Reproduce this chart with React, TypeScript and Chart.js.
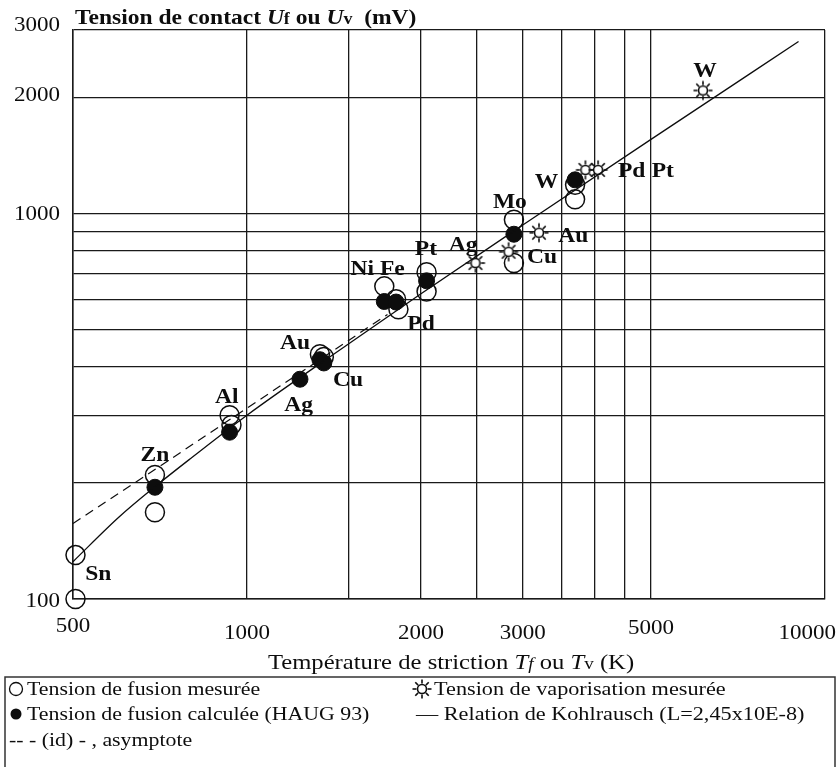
import React, { useEffect, useRef } from "react";
import { Chart, registerables } from "chart.js";

Chart.register(...registerables);

// ---- axes ----
const xGridValues = [500, 1000, 1500, 2000, 2500, 3000, 3500, 4000, 4500, 5000, 10000];
const yGridValues = [100, 200, 300, 400, 500, 600, 700, 800, 900, 1000, 2000, 3000];
const xTickLabels = [500, 1000, 2000, 3000, 5000, 10000];
const yTickLabels = [100, 1000, 2000, 3000];

// ---- Tension de fusion mesurée (open circles) ----
const measuredT = [505, 505, 693, 693, 933, 940, 1337, 1358, 1728, 1811, 1828, 2045, 2045, 2896, 2896, 3695, 3695];
const measuredU = [130, 100, 210, 168, 300, 283, 432, 425, 648, 600, 565, 705, 628, 965, 745, 1190, 1090];

// ---- Tension de fusion calculée (HAUG 93) (filled circles) ----
const calcT = [693, 933, 1235, 1337, 1358, 1728, 1811, 2045, 2896, 3695];
const calcU = [195, 271, 372, 418, 410, 592, 590, 670, 885, 1225];

// ---- Tension de vaporisation mesurée (suns) ----
const vapT = [2485, 2835, 3200, 3850, 4050, 6150];
const vapU = [745, 797, 893, 1300, 1300, 2090];

// ---- Relation de Kohlrausch (solid) ----
const kohlT = [500, 600, 700, 800, 1000, 1500, 2000, 3000, 5000, 9000];
const kohlU = [125, 163, 198, 232, 300, 460, 620, 935, 1560, 2800];

// ---- asymptote (dashed) ----
const asymT = [500, 700, 1000, 1400, 1750];
const asymU = [157, 219, 313, 438, 548];

// ---- element labels ----
const labelText = ["W", "Pd", "Pt", "W", "Mo", "Au", "Cu", "Ag", "Pt", "Ni Fe", "Pd", "Au", "Cu", "Ag", "Al", "Zn", "Sn"];
const labelT = [6200, 4630, 5240, 3296, 2850, 3670, 3240, 2365, 2040, 1683, 2000, 1211, 1495, 1228, 923, 693, 553];
const labelU = [2340, 1288, 1288, 1205, 1067, 873, 768, 827, 808, 715, 515, 459, 368, 317, 333, 235, 116];

const SERIF = '"Liberation Serif", "Times New Roman", serif';
const INK = "#0d0d0d";

function makeSun(): HTMLCanvasElement {
  const c = document.createElement("canvas");
  c.width = 22;
  c.height = 22;
  const g = c.getContext("2d")!;
  g.strokeStyle = INK;
  g.lineWidth = 1.6;
  g.beginPath();
  g.arc(11, 11, 4.5, 0, Math.PI * 2);
  g.fillStyle = "#fff";
  g.fill();
  g.stroke();
  for (let i = 0; i < 8; i++) {
    const a = (i * Math.PI) / 4;
    g.beginPath();
    g.moveTo(11 + Math.cos(a) * 5.5, 11 + Math.sin(a) * 5.5);
    g.lineTo(11 + Math.cos(a) * 9.5, 11 + Math.sin(a) * 9.5);
    g.stroke();
  }
  return c;
}

function drawText(ctx: CanvasRenderingContext2D, s: string, x: number, y: number, font: string, align = "left", sx = 1.1) {
  ctx.save();
  ctx.font = font;
  const w = ctx.measureText(s).width * sx;
  const x0 = align === "center" ? x - w / 2 : align === "right" ? x - w : x;
  ctx.translate(x0, y);
  ctx.scale(sx, 1);
  ctx.textAlign = "left";
  ctx.fillText(s, 0, 0);
  ctx.restore();
  return w;
}

function drawRich(ctx: CanvasRenderingContext2D, segs: { s: string; f: string }[], x: number, y: number, align = "left", sx = 1.1) {
  ctx.save();
  let total = 0;
  for (const seg of segs) {
    ctx.font = seg.f;
    total += ctx.measureText(seg.s).width * sx;
  }
  let cx = align === "center" ? x - total / 2 : x;
  for (const seg of segs) {
    cx += drawText(ctx, seg.s, cx, y, seg.f, "left", sx);
  }
  ctx.restore();
}

const overlayPlugin = {
  id: "overlay",
  afterDatasetsDraw(chart: any) {
    const ctx: CanvasRenderingContext2D = chart.ctx;
    const xs = chart.scales.x;
    const ys = chart.scales.y;
    ctx.save();
    ctx.fillStyle = INK;
    ctx.textBaseline = "middle";
    labelText.forEach((t, i) => {
      drawText(ctx, t, xs.getPixelForValue(labelT[i]), ys.getPixelForValue(labelU[i]), `bold 21px ${SERIF}`, "center", 1.12);
    });
    ctx.restore();
  },
  afterDraw(chart: any) {
    const ctx: CanvasRenderingContext2D = chart.ctx;
    const xs = chart.scales.x;
    const ys = chart.scales.y;
    const W = chart.width;
    ctx.save();
    ctx.fillStyle = INK;
    ctx.textBaseline = "alphabetic";
    // x tick labels
    const xDy: Record<number, number> = { 500: -7, 5000: -5 };
    xTickLabels.forEach((v) => {
      const s = String(v);
      const f = `20px ${SERIF}`;
      ctx.font = f;
      const w = ctx.measureText(s).width * 1.15;
      let cx = xs.getPixelForValue(v);
      if (cx + w / 2 > W - 4) cx = W - 4 - w / 2;
      drawText(ctx, s, cx, ys.bottom + 40 + (xDy[v] || 0), f, "center", 1.15);
    });
    // y tick labels
    const yDy: Record<number, number> = { 100: 8, 1000: 6.5, 2000: 3.5, 3000: 1 };
    yTickLabels.forEach((v) => {
      drawText(ctx, String(v), 60, ys.getPixelForValue(v) + (yDy[v] || 0), `20px ${SERIF}`, "right", 1.15);
    });
    // title
    const b = `bold 21px ${SERIF}`;
    const bi = `italic bold 21px ${SERIF}`;
    const bs = `bold 16px ${SERIF}`;
    drawRich(
      ctx,
      [
        { s: "Tension de contact ", f: b },
        { s: "U", f: bi },
        { s: "f", f: bs },
        { s: " ou ", f: b },
        { s: "U", f: bi },
        { s: "v", f: bs },
        { s: "  (mV)", f: b },
      ],
      75,
      24,
      "left",
      1.12
    );
    // x axis title
    const r = `22px ${SERIF}`;
    const ri = `italic 22px ${SERIF}`;
    const rs = `italic 17px ${SERIF}`;
    const rsv = `17px ${SERIF}`;
    drawRich(
      ctx,
      [
        { s: "Température de striction ", f: r },
        { s: "T", f: ri },
        { s: "f", f: rs },
        { s: " ou ", f: r },
        { s: "T", f: ri },
        { s: "v", f: rsv },
        { s: " (K)", f: r },
      ],
      451,
      669,
      "center",
      1.12
    );
    // legend box
    ctx.strokeStyle = "#333";
    ctx.lineWidth = 1.5;
    ctx.strokeRect(5, 677, 830, 100);
    const lf = `19.5px ${SERIF}`;
    const rows = [695, 720, 746];
    ctx.beginPath();
    ctx.lineWidth = 1.3;
    ctx.strokeStyle = INK;
    ctx.arc(16, rows[0] - 6, 6.5, 0, Math.PI * 2);
    ctx.stroke();
    drawText(ctx, "Tension de fusion mesurée", 27, rows[0], lf, "left", 1.12);
    ctx.beginPath();
    ctx.arc(16, rows[1] - 6, 5.5, 0, Math.PI * 2);
    ctx.fill();
    drawText(ctx, "Tension de fusion calculée (HAUG 93)", 27, rows[1], lf, "left", 1.12);
    drawText(ctx, "-- - (id) - , asymptote", 9, rows[2], lf, "left", 1.12);
    const sun = makeSun();
    ctx.drawImage(sun, 422 - 11, rows[0] - 6 - 11);
    drawText(ctx, "Tension de vaporisation mesurée", 434, rows[0], lf, "left", 1.14);
    drawText(ctx, "— Relation de Kohlrausch (L=2,45x10E-8)", 416, rows[1], lf, "left", 1.14);
    ctx.restore();
  },
};

export default function App() {
  const ref = useRef<HTMLCanvasElement>(null);
  useEffect(() => {
    document.body.style.margin = "0";
    const sun = makeSun();
    const pts = (a: number[], b: number[]) => a.map((x, i) => ({ x, y: b[i] }));
    const chart = new Chart(ref.current!, {
      type: "scatter",
      data: {
        datasets: [
          {
            label: "Relation de Kohlrausch",
            data: pts(kohlT, kohlU),
            showLine: true,
            borderColor: INK,
            borderWidth: 1.3,
            pointRadius: 0,
            cubicInterpolationMode: "monotone",
            clip: false,
          } as any,
          {
            label: "asymptote",
            data: pts(asymT, asymU),
            showLine: true,
            borderColor: INK,
            borderWidth: 1.2,
            borderDash: [9, 6],
            pointRadius: 0,
            clip: false,
          },
          {
            label: "Tension de fusion calculée",
            data: pts(calcT, calcU),
            pointRadius: 8,
            backgroundColor: INK,
            borderColor: INK,
            borderWidth: 1,
            clip: false,
          },
          {
            label: "Tension de vaporisation mesurée",
            data: pts(vapT, vapU),
            pointStyle: sun as any,
            pointRadius: 10,
            clip: false,
          },
          {
            label: "Tension de fusion mesurée",
            data: pts(measuredT, measuredU),
            pointRadius: 9.5,
            backgroundColor: "rgba(255,255,255,0)",
            borderColor: INK,
            borderWidth: 1.5,
            clip: false,
          },
        ],
      },
      options: {
        animation: false,
        responsive: false,
        maintainAspectRatio: false,
        layout: { padding: { left: 73, right: 15, top: 30, bottom: 168 } },
        plugins: { legend: { display: false }, tooltip: { enabled: false } },
        scales: {
          x: {
            type: "logarithmic",
            min: 500,
            max: 10000,
            ticks: { display: false },
            grid: { color: "#1a1a1a", lineWidth: 1.3, drawTicks: false },
            border: { display: true, color: "#1a1a1a", width: 1.5 },
            afterBuildTicks: (s: any) => {
              s.ticks = xGridValues.map((v) => ({ value: v }));
            },
          },
          y: {
            type: "logarithmic",
            min: 100,
            max: 3000,
            ticks: { display: false },
            grid: { color: "#1a1a1a", lineWidth: 1.3, drawTicks: false },
            border: { display: true, color: "#1a1a1a", width: 1.5 },
            afterBuildTicks: (s: any) => {
              s.ticks = yGridValues.map((v) => ({ value: v }));
            },
          },
        },
      },
      plugins: [overlayPlugin],
    });
    return () => chart.destroy();
  }, []);
  return (
    <div style={{ width: 840, height: 767, background: "#fff" }}>
      <canvas ref={ref} width={840} height={767} style={{ display: "block" }} />
    </div>
  );
}
